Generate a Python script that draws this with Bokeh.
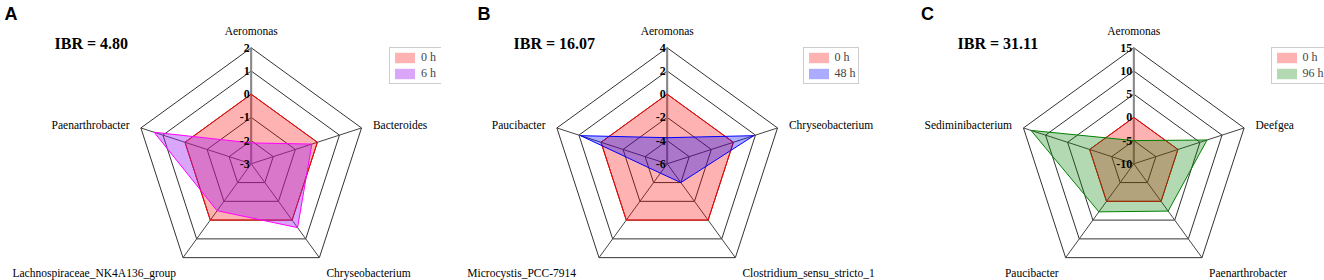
import numpy as np
from bokeh.plotting import figure
from bokeh.models import Range1d, Label, Legend, LegendItem, ColumnDataSource
from bokeh.layouts import row
from bokeh.embed import file_html
from bokeh.resources import INLINE
from bokeh.core.properties import value

# ---------------- data ----------------
a_categories = ["Aeromonas", "Bacteroides", "Chryseobacterium",
                "Lachnospiraceae_NK4A136_group", "Paenarthrobacter"]
a_base = [0, 0, 0, 0, 0]
a_treat = [-2.1, -0.25, 0.4, -0.5, 1.4]
a_ticks = [-3, -2, -1, 0, 1, 2]
a_series = ["0 h", "6 h"]
a_ibr = "IBR = 4.80"

b_categories = ["Aeromonas", "Chryseobacterium", "Clostridium_sensu_stricto_1",
                "Microcystis_PCC-7914", "Paucibacter"]
b_base = [0, 0, 0, 0, 0]
b_treat = [-3.75, 1.85, -4.0, -5.0, 1.85]
b_ticks = [-6, -4, -2, 0, 2, 4]
b_series = ["0 h", "48 h"]
b_ibr = "IBR = 16.07"

c_categories = ["Aeromonas", "Deefgea", "Paenarthrobacter",
                "Paucibacter", "Sediminibacterium"]
c_base = [0, 0, 0, 0, 0]
c_treat = [-5.0, 6.6, 2.6, 2.8, 13.3]
c_ticks = [-10, -5, 0, 5, 10, 15]
c_series = ["0 h", "96 h"]
c_ibr = "IBR = 31.11"

SERIF = "Liberation Serif"
SANS = "Liberation Sans"
H = 280
R = 116.0
CY = 163.3  # centre distance from top


def panel(letter, cats, base, treat, ticks, series, ibr, width, cx,
          letter_x, ibr_x, leg_x, treat_line, treat_fill, treat_alpha,
          label_shift=None):
    p = figure(width=width, height=H, output_backend="svg", toolbar_location=None,
               x_range=Range1d(-cx, width - cx), y_range=Range1d(CY - H, CY),
               min_border=0, outline_line_color=None)
    p.axis.visible = False
    p.grid.visible = False

    n = len(cats)
    ang = np.arange(n) * 2 * np.pi / n
    sx, cy_ = np.sin(ang), np.cos(ang)
    vmin, vmax = ticks[0], ticks[-1]
    nring = len(ticks) - 1

    # rings
    xs, ys = [], []
    for k in range(1, nring + 1):
        rr = R * k / nring
        xs.append(list(np.append(rr * sx, rr * sx[0])))
        ys.append(list(np.append(rr * cy_, rr * cy_[0])))
    p.multi_line(xs, ys, line_color="#333333", line_width=1)
    # spokes
    p.segment(x0=[0] * n, y0=[0] * n, x1=list(R * sx), y1=list(R * cy_),
              line_color="#444444", line_width=1)
    p.segment(x0=[0], y0=[0], x1=[0], y1=[R], line_color="#888888", line_width=2)

    def poly(vals):
        r = R * (np.array(vals, dtype=float) - vmin) / (vmax - vmin)
        x, y = list(r * sx), list(r * cy_)
        return x, y

    bx, by = poly(base)
    f0 = p.patch(bx, by, fill_color="#ff0000", fill_alpha=0.3, line_color=None)
    p.line(bx + bx[:1], by + by[:1], line_color="#ff0000", line_width=1)
    tx, ty = poly(treat)
    f1 = p.patch(tx, ty, fill_color=treat_fill, fill_alpha=treat_alpha, line_color=None)
    p.line(tx + tx[:1], ty + ty[:1], line_color=treat_line, line_width=1)

    # tick labels
    tr = [R * (t - vmin) / (vmax - vmin) for t in ticks]
    p.text(x=[-1.5] * len(ticks), y=tr, text=[str(t) for t in ticks],
           text_font=value(SERIF), text_font_size="12px", text_font_style="bold",
           text_align="right", text_baseline="middle", text_color="black")

    # category labels
    shift = label_shift or [0] * n
    lx, ly, al = [], [], []
    for s, c, d in zip(sx, cy_, shift):
        lx.append(R * s + 12 * s + d)
        ly.append(R * c + 17 * c - 2 * abs(s))
        al.append("center" if abs(s) < 0.1 else ("left" if s > 0 else "right"))
    src = ColumnDataSource(dict(x=lx, y=ly, t=cats, a=al))
    p.text(x="x", y="y", text="t", text_align="a", source=src,
           text_font=value(SERIF), text_font_size="11.5px",
           text_baseline="middle", text_color="black")

    # panel letter and IBR
    p.add_layout(Label(x=letter_x, y=H - 3, x_units="screen", y_units="screen",
                       text=letter, text_font=SANS, text_font_size="18px",
                       text_font_style="bold", text_baseline="top", text_color="black"))
    p.add_layout(Label(x=ibr_x, y=H - 42.7, x_units="screen", y_units="screen",
                       text=ibr, text_font=SERIF, text_font_size="16px",
                       text_font_style="bold", text_baseline="middle", text_color="black"))

    # legend
    leg = Legend(items=[LegendItem(label=series[0], renderers=[f0]),
                        LegendItem(label=series[1], renderers=[f1])],
                 location=(leg_x, H - 53 - 31), margin=0, padding=2, spacing=1,
                 glyph_width=25, glyph_height=13, label_height=13, label_standoff=4,
                 label_text_font=SERIF, label_text_font_size="12px",
                 border_line_color="#999999", border_line_width=1,
                 background_fill_color="white", background_fill_alpha=1)
    p.add_layout(leg, "center")
    return p


pa = panel("A", a_categories, a_base, a_treat, a_ticks, a_series, a_ibr,
           441, 250.7, 4, 54, 389, "#ff00ff", "#a020f0", 0.4)
pb = panel("B", b_categories, b_base, b_treat, b_ticks, b_series, b_ibr,
           441, 225.7, 36, 72, 361.5, "#0000ff", "#0000ff", 0.33,
           label_shift=[0, 0, 0, -16, 0])
pc = panel("C", c_categories, c_base, c_treat, c_ticks, c_series, c_ibr,
           442, 251.3, 38.5, 75, 388.5, "#008000", "#008000", 0.3)

layout = row(pa, pb, pc, spacing=0)
open("out.html", "w").write(file_html(layout, INLINE))
